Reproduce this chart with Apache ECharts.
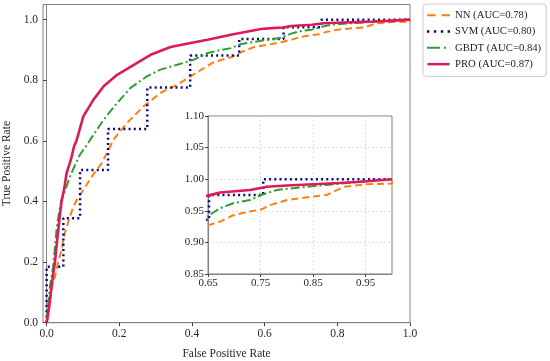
<!DOCTYPE html>
<html>
<head>
<meta charset="utf-8">
<script src="https://cdn.jsdelivr.net/npm/echarts@6/dist/echarts.min.js"></script>
<style>html,body{margin:0;padding:0;background:#fff}#c{width:550px;height:361px}</style>
</head>
<body>
<div id="c"></div>
<script>
// ---- data ----
var seriesNames = ['NN (AUC=0.78)', 'SVM (AUC=0.80)', 'GBDT (AUC=0.84)', 'PRO (AUC=0.87)'];
var mainTicks = [0, 0.2, 0.4, 0.6, 0.8, 1.0];
var insetXTicks = [0.65, 0.75, 0.85, 0.95];
var insetYTicks = [0.85, 0.90, 0.95, 1.00, 1.05, 1.10];

var nnROC = [[0,0],[0.005,0.03],[0.009,0.064],[0.014,0.119],[0.023,0.152],[0.032,0.2],[0.041,0.24],[0.05,0.295],[0.064,0.35],[0.074,0.383],[0.085,0.41],[0.101,0.438],[0.124,0.482],[0.152,0.527],[0.17,0.57],[0.184,0.604],[0.221,0.659],[0.267,0.714],[0.313,0.758],[0.359,0.785],[0.396,0.813],[0.433,0.84],[0.46,0.86],[0.507,0.876],[0.54,0.895],[0.572,0.91],[0.62,0.92],[0.65,0.927],[0.673,0.933],[0.698,0.943],[0.73,0.949],[0.751,0.952],[0.768,0.959],[0.8,0.967],[0.844,0.972],[0.876,0.975],[0.908,0.988],[0.952,0.992],[1,0.993],[1,1]];

var svmROC = [[0,0],[0,0.185],[0.046,0.185],[0.046,0.345],[0.092,0.345],[0.092,0.504],[0.169,0.504],[0.169,0.639],[0.277,0.639],[0.277,0.776],[0.395,0.776],[0.395,0.882],[0.53,0.882],[0.53,0.936],[0.652,0.936],[0.652,0.975],[0.755,0.975],[0.755,1.0],[1,1]];

var gbdtROC = [[0,0],[0.004,0.06],[0.009,0.119],[0.018,0.185],[0.023,0.251],[0.028,0.317],[0.037,0.383],[0.041,0.405],[0.055,0.45],[0.064,0.482],[0.078,0.52],[0.092,0.555],[0.11,0.585],[0.12,0.604],[0.157,0.67],[0.194,0.725],[0.23,0.774],[0.276,0.813],[0.313,0.835],[0.359,0.851],[0.406,0.868],[0.443,0.89],[0.48,0.9],[0.507,0.906],[0.535,0.92],[0.6,0.932],[0.645,0.94],[0.65,0.942],[0.673,0.954],[0.698,0.962],[0.73,0.967],[0.751,0.975],[0.781,0.983],[0.825,0.987],[0.876,0.991],[0.94,0.996],[1,1]];

var proROC = [[0,0],[0.003,0.02],[0.009,0.074],[0.017,0.152],[0.023,0.2],[0.029,0.273],[0.037,0.361],[0.041,0.4],[0.048,0.44],[0.055,0.494],[0.062,0.52],[0.069,0.548],[0.075,0.58],[0.083,0.604],[0.101,0.681],[0.129,0.736],[0.157,0.78],[0.194,0.818],[0.24,0.851],[0.286,0.884],[0.341,0.91],[0.396,0.923],[0.443,0.934],[0.507,0.95],[0.55,0.96],[0.59,0.969],[0.63,0.973],[0.65,0.974],[0.673,0.979],[0.73,0.983],[0.762,0.988],[0.8,0.99],[0.85,0.992],[0.9,0.994],[0.94,0.996],[1,1]];

// ---- styling ----
var FONT = 'Liberation Serif';
var styles = [
  {color:'#ff7f0e', width:2, type:[7,4], icon:'path://M0,0H8.5V2H0Z M14.5,0H23V2H14.5Z'},
  {color:'#0a0a80', width:2.5, type:[2,3.2], icon:'path://M0,0H2.4V2.4H0Z M6.9,0H9.3V2.4H6.9Z M13.8,0H16.2V2.4H13.8Z M20.6,0H23V2.4H20.6Z'},
  {color:'#2ca02c', width:2, type:[9,3,2,3], icon:'path://M0,0H13V2H0Z M17,0H19V2H17Z M22.8,0H23V2H22.8Z'},
  {color:'#dc1a5a', width:2.6, type:'solid', icon:'path://M0,0H23V2.6H0Z'}
];
var datasets = [nnROC, svmROC, gbdtROC, proROC];

var series = [];
datasets.forEach(function(d, i){
  var s = styles[i];
  series.push({name:seriesNames[i], type:'line', data:d, xAxisIndex:0, yAxisIndex:0,
    showSymbol:false, symbol:'none', z:2+i*0.01,
    lineStyle:{color:s.color, width:s.width, type:s.type}, itemStyle:{color:s.color}});
});
datasets.forEach(function(d, i){
  var s = styles[i];
  series.push({name:seriesNames[i], type:'line', data:d, xAxisIndex:1, yAxisIndex:1,
    showSymbol:false, symbol:'none', z:7+i*0.01,
    lineStyle:{color:s.color, width:s.width, type:s.type}, itemStyle:{color:s.color}});
});

var legendData = seriesNames.map(function(n, i){
  return {name:n, icon:styles[i].icon, itemStyle:{color:styles[i].color, borderWidth:0}};
});

var chart = echarts.init(document.getElementById('c'), null, {renderer:'canvas'});
chart.setOption({
  animation:false,
  backgroundColor:'#fff',
  grid:[
    {left:43, top:4.5, right:140, bottom:38.3, show:true, borderColor:'#808080', borderWidth:1, backgroundColor:'rgba(0,0,0,0)', z:0, containLabel:false, outerBoundsMode:'none'},
    {left:208, top:116, right:158, bottom:87, show:true, borderColor:'#808080', borderWidth:1, backgroundColor:'#ffffff', z:5, containLabel:false, outerBoundsMode:'none'}
  ],
  xAxis:[
    {gridIndex:0, type:'value', min:-0.01, max:1.0,
      axisLine:{show:true, lineStyle:{color:'#808080'}},
      axisTick:{show:true, length:3.5, customValues:mainTicks, lineStyle:{color:'#444'}},
      axisLabel:{customValues:mainTicks, margin:5, formatter:function(v){return v.toFixed(1);}, fontFamily:FONT, fontSize:11.5, color:'#262626'},
      splitLine:{show:false},
      name:'False Positive Rate', nameLocation:'middle', nameGap:25,
      nameTextStyle:{fontFamily:FONT, fontSize:11.5, color:'#262626'}},
    {gridIndex:1, type:'value', min:0.65, max:1.0, z:6,
      axisLine:{show:true, lineStyle:{color:'#808080'}},
      axisTick:{show:true, length:3, customValues:insetXTicks, lineStyle:{color:'#444'}},
      axisLabel:{customValues:insetXTicks, margin:4, formatter:function(v){return v.toFixed(2);}, fontFamily:FONT, fontSize:11, color:'#262626'},
      splitLine:{show:true, lineStyle:{color:'#d9d9d9', type:[2,2], width:0.8}}}
  ],
  yAxis:[
    {gridIndex:0, type:'value', min:0, max:1.05,
      axisLine:{show:true, lineStyle:{color:'#808080'}},
      axisTick:{show:true, length:3.5, customValues:mainTicks, lineStyle:{color:'#444'}},
      axisLabel:{customValues:mainTicks, margin:5, formatter:function(v){return v.toFixed(1);}, fontFamily:FONT, fontSize:11.5, color:'#262626'},
      splitLine:{show:false},
      name:'True Positive Rate', nameLocation:'middle', nameGap:28, nameRotate:90,
      nameTextStyle:{fontFamily:FONT, fontSize:11.5, color:'#262626'}},
    {gridIndex:1, type:'value', min:0.85, max:1.10, z:6,
      axisLine:{show:true, lineStyle:{color:'#808080'}},
      axisTick:{show:true, length:3, customValues:insetYTicks, lineStyle:{color:'#444'}},
      axisLabel:{customValues:insetYTicks, margin:4, formatter:function(v){return v.toFixed(2);}, fontFamily:FONT, fontSize:11, color:'#262626'},
      splitLine:{show:true, lineStyle:{color:'#d9d9d9', type:[2,2], width:0.8}}}
  ],
  legend:{
    data:legendData, orient:'vertical', left:423, top:4,
    itemWidth:23, itemHeight:2.5, itemGap:3.8, padding:[5,5,6,4],
    borderColor:'#cccccc', borderWidth:1, borderRadius:3, backgroundColor:'#fff',
    textStyle:{fontFamily:FONT, fontSize:10.7, color:'#222', lineHeight:12.5}
  },
  series:series
});
</script>
</body>
</html>
